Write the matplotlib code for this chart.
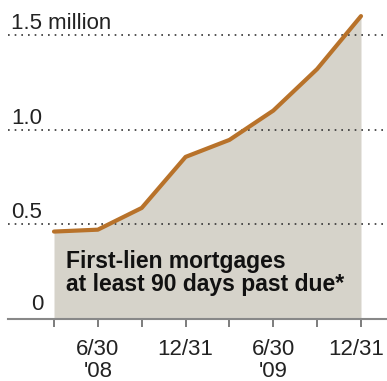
import matplotlib
matplotlib.use("Agg")
import matplotlib.pyplot as plt
import matplotlib.transforms as mtransforms
import numpy as np

# quarter ends, 3/31/08 .. 12/31/09
quarters = ["3/31/08", "6/30/08", "9/30/08", "12/31/08", "3/31/09", "6/30/09", "9/30/09", "12/31/09"]
loans_millions = [0.46, 0.47, 0.585, 0.855, 0.945, 1.10, 1.32, 1.60]
tick_labels = ["", "6/30\n'08", "", "12/31", "", "6/30\n'09", "", "12/31"]
grid_values = [0.5, 1.0, 1.5]
grid_labels = ["0.5", "1.0", "1.5 million"]

W, H = 387, 381
fig = plt.figure(figsize=(W / 100, H / 100), dpi=100)
ax = fig.add_axes([8 / W, (H - 318.5) / H, 379 / W, 318.5 / H])

x = np.arange(len(quarters))
px = 307 / 7  # pixels per quarter
ax.set_xlim(-(54 - 8) / px, 7 + (387 - 361) / px)
ax.set_ylim(0, 318.5 / 189)

ax.fill_between(x, 0, loans_millions, color="#d6d3ca", lw=0, zorder=1)
for v in grid_values:
    ax.axhline(v, color="#333333", lw=1.2, ls=(0, (1, 3)), zorder=2)
ax.plot(x, loans_millions, color="#b8722a", lw=3, solid_capstyle="round", solid_joinstyle="round", zorder=3)

font = "Liberation Sans"
fs = 16
for v, lab in zip(grid_values, grid_labels):
    ax.text(-(54 - 11) / px, v + 6 / 189, lab, ha="left", va="baseline",
            fontsize=fs, family=font, color="#222222")
ax.text(-(54 - 44) / px, 9 / 189, "0", ha="right", va="baseline",
        fontsize=fs, family=font, color="#222222")

ax.text(-(54 - 66) / px, (318.5 - 273) / 189,
        "First-lien mortgages\nat least 90 days past due*",
        ha="left", va="center", fontsize=16.5, fontweight="bold", family=font,
        color="#111111", linespacing=1.05, zorder=4)

for s in ["top", "right", "left"]:
    ax.spines[s].set_visible(False)
ax.spines["bottom"].set_color("#888888")
ax.spines["bottom"].set_linewidth(1.5)
ax.set_yticks([])
ax.set_xticks(x)
ax.set_xticklabels(tick_labels, fontsize=fs, family=font, color="#222222", linespacing=1.05)
ax.tick_params(axis="x", direction="out", length=6, width=1.2, color="#666666", pad=9)

# last label sits a bit left of its tick so it fits the frame
last = ax.get_xticklabels()[-1]
last.set_transform(last.get_transform() + mtransforms.ScaledTranslation(-5 / 100, 0, fig.dpi_scale_trans))

fig.savefig("out.png", dpi=100)
